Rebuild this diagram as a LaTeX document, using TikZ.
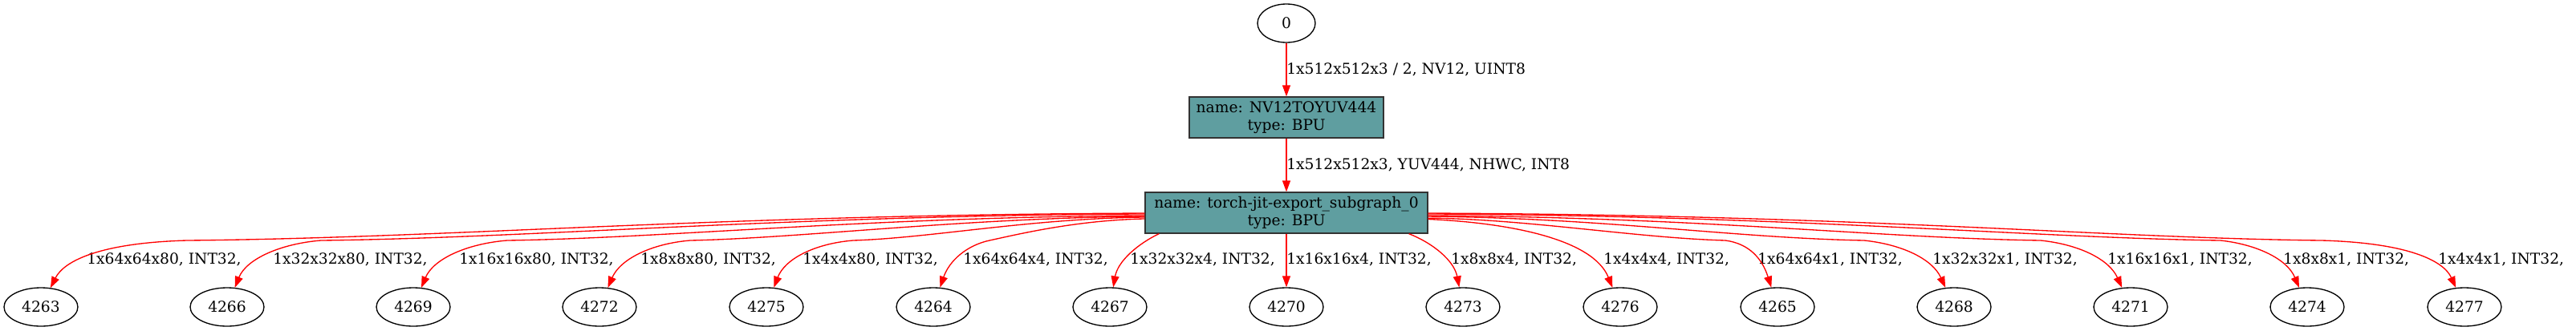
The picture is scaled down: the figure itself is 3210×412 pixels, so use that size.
\documentclass[tikz,border=0pt]{standalone}
\usepackage{fontspec}
\setmainfont{DejaVu Serif}
\usetikzlibrary{arrows.meta,shapes.geometric}
\definecolor{cadet}{RGB}{95,158,160}
\tikzset{
    every node/.style={font=\fontsize{14pt}{16pt}\selectfont},
    val/.style={ellipse, draw, line width=1pt, minimum width=69pt, minimum height=36pt, inner sep=0pt},
    op/.style={rectangle, draw=black!80, fill=cadet, line width=1pt, minimum height=38.25pt, inner sep=0pt, align=center},
    edge/.style={red, line width=1pt, -{Triangle[length=10.5pt,width=7.5pt]}},
    elabel/.style={anchor=base west, inner sep=0pt}
}
\begin{document}
\begin{tikzpicture}[x=0.75pt, y=-0.75pt]
    \useasboundingbox (0,0) rectangle (3210,412);

        \node[val, minimum width=54pt] (in0) at (1603,29) {0};
        \node[op, minimum width=181.5pt] (nv12) at (1603,146.5) {name: NV12TOYUV444\\type: BPU};
        \node[op, minimum width=264pt] (sub0) at (1603,265.5) {name: torch-jit-export\_subgraph\_0\\type: BPU};

        \draw[edge] (in0) to (nv12);
        \node[elabel] (lin0) at (1603,92) {1x512x512x3 / 2, NV12, UINT8};
        \draw[edge] (nv12) to (sub0);
        \node[elabel] (lnv12) at (1603,211) {1x512x512x3, YUV444, NHWC, INT8};

        \node[val] (o4263) at (51,383) {4263};
        \node[val] (o4266) at (283,383) {4266};
        \node[val] (o4269) at (515,383) {4269};
        \node[val] (o4272) at (747,383) {4272};
        \node[val] (o4275) at (955,383) {4275};
        \node[val] (o4264) at (1163,383) {4264};
        \node[val] (o4267) at (1383,383) {4267};
        \node[val] (o4270) at (1603,383) {4270};
        \node[val] (o4273) at (1823,383) {4273};
        \node[val] (o4276) at (2019,383) {4276};
        \node[val] (o4265) at (2215,383) {4265};
        \node[val] (o4268) at (2435,383) {4268};
        \node[val] (o4271) at (2655,383) {4271};
        \node[val] (o4274) at (2875,383) {4274};
        \node[val] (o4277) at (3071,383) {4277};

        \node[elabel] (l4263) at (108,329) {1x64x64x80, INT32,};
        \node[elabel] (l4266) at (340,329) {1x32x32x80, INT32,};
        \node[elabel] (l4269) at (572,329) {1x16x16x80, INT32,};
        \node[elabel] (l4272) at (798,329) {1x8x8x80, INT32,};
        \node[elabel] (l4275) at (1000,329) {1x4x4x80, INT32,};
        \node[elabel] (l4264) at (1200,329) {1x64x64x4, INT32,};
        \node[elabel] (l4267) at (1408,329) {1x32x32x4, INT32,};
        \node[elabel] (l4270) at (1603,329) {1x16x16x4, INT32,};
        \node[elabel] (l4273) at (1808,329) {1x8x8x4, INT32,};
        \node[elabel] (l4276) at (1998,329) {1x4x4x4, INT32,};
        \node[elabel] (l4265) at (2190,329) {1x64x64x1, INT32,};
        \node[elabel] (l4268) at (2408,329) {1x32x32x1, INT32,};
        \node[elabel] (l4271) at (2626,329) {1x16x16x1, INT32,};
        \node[elabel] (l4274) at (2845,329) {1x8x8x1, INT32,};
        \node[elabel] (l4277) at (3038,329) {1x4x4x1, INT32,};

        % left side of the subgraph
        \draw[edge] ([yshift=-0.4pt]sub0.west) .. controls (890,268) and (560,297) .. (233,300) .. controls (126,303) and (80,325) .. (o4263);
        \draw[edge] ([yshift=-1.1pt]sub0.west) .. controls (980,269) and (660,297) .. (400,300) .. controls (350,304) and (307,323) .. (o4266);
        \draw[edge] ([yshift=-2.6pt]sub0.west) .. controls (1080,271) and (830,297) .. (632,300) .. controls (582,304) and (540,323) .. (o4269);
        \draw[edge] ([yshift=-3.4pt]sub0.west) .. controls (1200,272) and (1000,297) .. (860,300) .. controls (812,304) and (773,323) .. (o4272);
        \draw[edge] ([yshift=-4.1pt]sub0.west) .. controls (1280,273) and (1160,297) .. (1063,300) .. controls (1015,304) and (978,323) .. (o4275);
        \draw[edge] ([yshift=-5.6pt]sub0.west) .. controls (1340,275) and (1270,292) .. (1233,300) .. controls (1205,306) and (1183,325) .. (o4264);
        \draw[edge] ([xshift=13.5pt]sub0.south west) .. controls (1420,303) and (1393,325) .. (o4267);

        \draw[edge] (sub0) to (o4270);

        % right side of the subgraph
        \draw[edge] ([xshift=-18pt]sub0.south east) .. controls (1785,303) and (1812,325) .. (o4273);
        \draw[edge] ([yshift=-6pt]sub0.east) .. controls (1880,278) and (1985,298) .. (o4276);
        \draw[edge] ([yshift=-5pt]sub0.east) .. controls (1900,273) and (2040,297) .. (2150,300) .. controls (2180,304) and (2196,323) .. (o4265);
        \draw[edge] ([yshift=-3.4pt]sub0.east) .. controls (2000,272) and (2160,297) .. (2323,300) .. controls (2370,305) and (2408,323) .. (o4268);
        \draw[edge] ([yshift=-2.6pt]sub0.east) .. controls (2120,271) and (2340,297) .. (2543,300) .. controls (2590,305) and (2628,323) .. (o4271);
        \draw[edge] ([yshift=-1.1pt]sub0.east) .. controls (2230,269) and (2540,297) .. (2767,300) .. controls (2812,305) and (2850,323) .. (o4274);
        \draw[edge] ([yshift=-0.4pt]sub0.east) .. controls (2320,268) and (2620,297) .. (2893,300) .. controls (3000,303) and (3045,325) .. (o4277);
\end{tikzpicture}
\end{document}
